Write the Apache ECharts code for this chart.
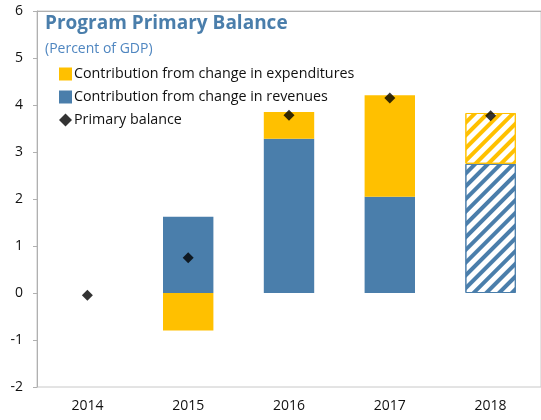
<!DOCTYPE html>
<html>
<head>
<meta charset="utf-8">
<script src="https://cdn.jsdelivr.net/npm/echarts@6/dist/echarts.min.js"></script>
<style>
html, body { margin: 0; padding: 0; background: #fff; }
#main { width: 541px; height: 420px; }
</style>
</head>
<body>
<div id="main"></div>
<script>
var years = ['2014', '2015', '2016', '2017', '2018'];
var revenues = [null, 1.62, 3.28, 2.05, 2.75];
var expenditures = [null, -0.80, 0.57, 2.16, 1.08];
var primaryBalance = [-0.05, 0.75, 3.78, 4.15, 3.77];
var projected = [false, false, false, false, true];   // 2018 is a projection (hatched)

var blue = '#4a7eab';
var gold = '#ffc000';
var fontName = 'Open Sans';

function stripes(color) {
    return {
        symbol: 'rect',
        symbolSize: 1,
        dashArrayX: [1, 0],
        dashArrayY: [4, 5],
        rotation: -Math.PI / 4,
        color: color
    };
}

function barData(values, color) {
    return values.map(function (v, i) {
        if (v === null) return '-';
        if (!projected[i]) return v;
        return {
            value: v,
            itemStyle: { color: '#fff', borderColor: color, borderWidth: 1, decal: stripes(color) }
        };
    });
}

var myChart = echarts.init(document.getElementById('main'));
myChart.setOption({
    animation: false,
    textStyle: { fontFamily: fontName },
    title: {
        text: 'Program Primary Balance',
        subtext: '(Percent of GDP)',
        left: 40,
        top: 9,
        itemGap: 9,
        textStyle: { color: blue, fontSize: 19, fontWeight: 'bold', fontFamily: fontName },
        subtextStyle: { color: '#4f86c0', fontSize: 14, fontFamily: fontName }
    },
    legend: {
        orient: 'vertical',
        left: 54,
        top: 62,
        itemGap: 9,
        itemWidth: 13,
        itemHeight: 13,
        data: [
            { name: 'Contribution from change in expenditures', icon: 'rect' },
            { name: 'Contribution from change in revenues', icon: 'rect' },
            { name: 'Primary balance', icon: 'diamond', itemStyle: { color: '#000' } }
        ],
        textStyle: { fontSize: 14.3, color: '#111', padding: [0, 0, 0, -3] }
    },
    grid: {
        left: 37,
        top: 11,
        width: 510,
        bottom: 33,
        show: true,
        borderColor: '#c8c8c8',
        borderWidth: 1
    },
    xAxis: [
        {
            type: 'category',
            data: years,
            position: 'bottom',
            axisLine: { show: false },
            axisTick: { show: false },
            axisLabel: { color: '#111', fontSize: 14, margin: 12 }
        },
        {
            type: 'category',
            data: years,
            position: 'top',
            axisLine: { onZero: true, lineStyle: { color: '#b0b0b0' } },
            axisTick: { inside: true, length: 5, lineStyle: { color: '#b0b0b0' } },
            axisLabel: { show: false }
        }
    ],
    yAxis: {
        type: 'value',
        min: -2,
        max: 6,
        interval: 1,
        axisLine: { show: true, lineStyle: { color: '#b0b0b0' } },
        axisTick: { show: true, length: 4, lineStyle: { color: '#b0b0b0' } },
        axisLabel: { color: '#111', fontSize: 14, margin: 14 },
        splitLine: { show: false }
    },
    series: [
        {
            name: 'Contribution from change in revenues',
            type: 'bar',
            stack: 'total',
            barWidth: '50%',
            itemStyle: { color: blue },
            data: barData(revenues, blue)
        },
        {
            name: 'Contribution from change in expenditures',
            type: 'bar',
            stack: 'total',
            barWidth: '50%',
            itemStyle: { color: gold },
            data: barData(expenditures, gold)
        },
        {
            name: 'Primary balance',
            type: 'scatter',
            symbol: 'diamond',
            symbolSize: 11,
            z: 5,
            itemStyle: { color: '#000' },
            data: primaryBalance
        }
    ]
});
</script>
</body>
</html>
